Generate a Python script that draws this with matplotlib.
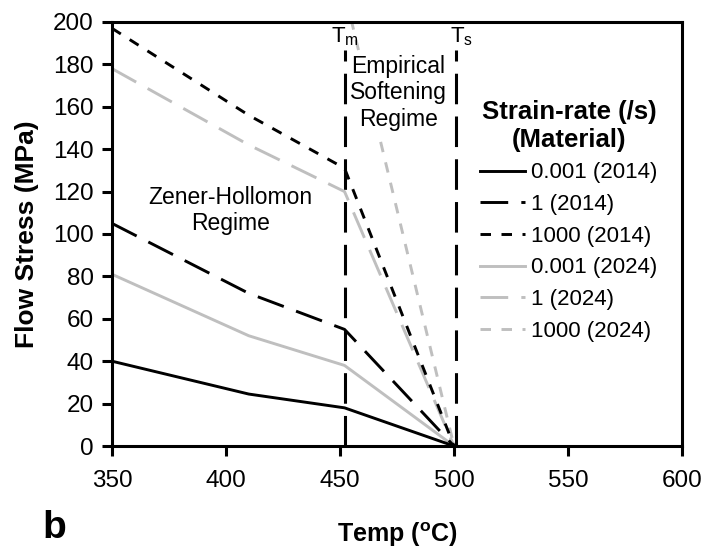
import numpy as np
import matplotlib.pyplot as plt

plt.rcParams['font.family'] = ['Liberation Sans', 'DejaVu Sans']

# --- data ---
temp = [350, 410, 452, 500]
s_0001_2014 = [40, 24.5, 18, 0]
s_1_2014 = [105, 72, 55, 0]
s_1000_2014 = [197, 156, 131, 0]
s_0001_2024 = [81, 52, 38, 0]
s_1_2024 = [178, 142, 120, 0]
temp_1000_2024 = [452, 500]
s_1000_2024 = [214, 0]

labels = ['0.001 (2014)', '1 (2014)', '1000 (2014)',
          '0.001 (2024)', '1 (2024)', '1000 (2024)']

t_m = 452
t_s = 501
vline_y = [0, 187]

xticks = [350, 400, 450, 500, 550, 600]
yticks = list(range(0, 201, 20))

black = 'black'
grey = '#bfbfbf'
lw = 2.1
dash_long = (9.5, 4.5)
dash_dot = (3.6, 3.6)

fig = plt.figure(figsize=(7.06, 5.49), dpi=100)
ax = fig.add_axes([0.1586, 0.1876, 0.8074, 0.7724])

# regime boundaries
for xv in (t_m, t_s):
    ax.plot([xv, xv], vline_y, color=black, lw=2.2, dashes=(10, 4), zorder=1)

ax.plot(temp, s_0001_2014, color=black, lw=lw, label=labels[0], zorder=3)
ax.plot(temp, s_1_2014, color=black, lw=lw, dashes=dash_long, label=labels[1], zorder=3)
ax.plot(temp, s_1000_2014, color=black, lw=lw, dashes=dash_dot, label=labels[2], zorder=3)
ax.plot(temp, s_0001_2024, color=grey, lw=lw, label=labels[3], zorder=2)
ax.plot(temp, s_1_2024, color=grey, lw=lw, dashes=dash_long, label=labels[4], zorder=2)
ax.plot(temp_1000_2024, s_1000_2024, color=grey, lw=lw, dashes=dash_dot, label=labels[5], zorder=2)

ax.set_xlim(350, 600)
ax.set_ylim(0, 200)
ax.set_xticks(xticks)
ax.set_yticks(yticks)
ax.tick_params(direction='out', length=7, width=2.2, labelsize=17.5)
ax.tick_params(axis='x', pad=10)
ax.tick_params(axis='y', pad=6)
for sp in ax.spines.values():
    sp.set_linewidth(2.2)

ax.set_ylabel('Flow Stress (MPa)', fontsize=19, fontweight='bold', labelpad=10)
ax.set_xlabel('Temp ($^{\\mathregular{o}}$C)', fontsize=18, fontweight='bold', labelpad=21)
fig.text(0.06, 0.02, 'b', fontsize=28, fontweight='bold', va='baseline')

# annotations
ax.text(402, 111, 'Zener-Hollomon\nRegime', ha='center', va='center', fontsize=16.5,
        linespacing=1.15, bbox=dict(fc='white', ec='none', pad=1), zorder=4)
ax.text(475.5, 166.5, 'Empirical\nSoftening\nRegime', ha='center', va='center', fontsize=16.5,
        linespacing=1.2, bbox=dict(fc='white', ec='none', pad=1), zorder=4)
ax.text(t_m, 193, 'T$_{\\mathregular{m}}$', ha='center', va='center', fontsize=16, zorder=4)
ax.text(t_s + 2.5, 193, 'T$_{\\mathregular{s}}$', ha='center', va='center', fontsize=16, zorder=4)

leg = ax.legend(loc='upper left', bbox_to_anchor=(0.646, 0.816), frameon=False,
                fontsize=16, title='Strain-rate (/s)\n(Material)',
                title_fontproperties={'weight': 'bold', 'size': 18.5},
                handlelength=2.0, handletextpad=0.3, labelspacing=0.48,
                borderaxespad=0, borderpad=0)
leg.get_title().set_multialignment('center')

fig.savefig('out.png', dpi=100)
